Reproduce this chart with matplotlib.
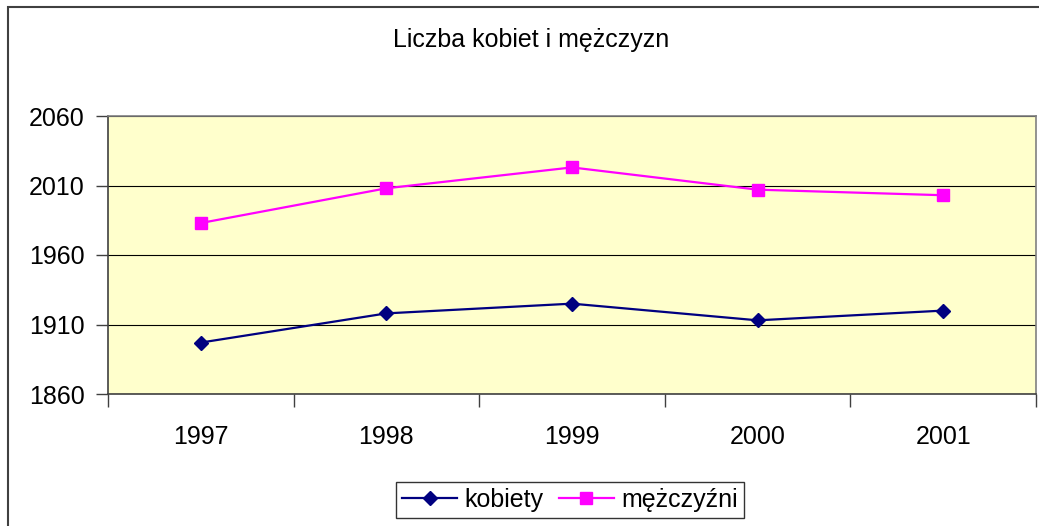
import matplotlib.pyplot as plt
from matplotlib.patches import Rectangle

# Chart data
years = ['1997', '1998', '1999', '2000', '2001']
kobiety = [1897, 1918, 1925, 1913, 1920]
mezczyzni = [1983, 2008, 2023, 2007, 2003]
y_ticks = [1860, 1910, 1960, 2010, 2060]

plt.rcParams['font.family'] = ['Liberation Sans', 'DejaVu Sans']
W, H = 1039, 526
fig = plt.figure(figsize=(W / 100, H / 100), dpi=100)

# Plot area in pixel units -> figure fractions
ax = fig.add_axes([108 / W, 1 - 394 / H, 928 / W, 278 / H])
ax.set_facecolor('#FFFFCC')

x = list(range(len(years)))
ax.plot(x, kobiety, color='#000080', lw=1.6, marker='D', markersize=7,
        label='kobiety', zorder=3)
ax.plot(x, mezczyzni, color='#FF00FF', lw=1.6, marker='s', markersize=8.5,
        label='mężczyźni', zorder=3)

ax.set_xlim(-0.5, len(years) - 0.5)
ax.set_ylim(y_ticks[0], y_ticks[-1])
ax.set_yticks(y_ticks)
ax.set_yticklabels([str(v) for v in y_ticks])
ax.grid(axis='y', color='black', lw=0.8, zorder=1)
ax.set_axisbelow(True)

# category labels centred, tick marks between categories
ax.set_xticks(x)
ax.set_xticklabels(years)
ax.set_xticks([i - 0.5 for i in range(len(years) + 1)], minor=True)
ax.tick_params(axis='x', which='major', length=0, pad=22, labelsize=18)
ax.tick_params(axis='x', which='minor', length=9, width=1, color='#404040',
               direction='out')
ax.tick_params(axis='y', length=9, width=1, color='#404040', pad=8,
               labelsize=18, direction='out')

for side in ['top', 'right']:
    ax.spines[side].set_color('#808080')
for side in ['left', 'bottom']:
    ax.spines[side].set_color('#404040')
for s in ax.spines.values():
    s.set_linewidth(1.2)

fig.text(531 / W, 1 - 40 / H, 'Liczba kobiet i mężczyzn', ha='center',
         va='center', fontsize=18)

leg = ax.legend(loc='center', bbox_to_anchor=(570 / W, 1 - 500 / H),
                bbox_transform=fig.transFigure, ncol=2, fontsize=18,
                frameon=True, fancybox=False, handlelength=2.2,
                handletextpad=0.3, columnspacing=0.6, borderpad=0.25)
leg.get_frame().set_edgecolor('black')
leg.get_frame().set_linewidth(1.0)

# outer chart border (only top and left visible in the crop)
fig.add_artist(Rectangle((8 / W, -0.1), 1.2, 1.1 - 7 / H,
                         transform=fig.transFigure, fill=False,
                         edgecolor='#404040', lw=1.5, clip_on=False))

fig.savefig('out.png', dpi=100)
